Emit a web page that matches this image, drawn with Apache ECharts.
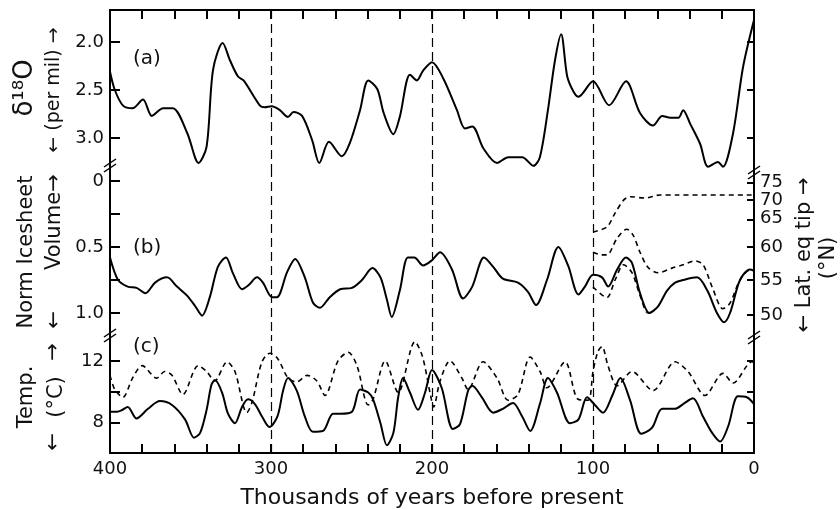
<!DOCTYPE html>
<html><head><meta charset="utf-8">
<script src="https://cdn.jsdelivr.net/npm/echarts@6/dist/echarts.min.js"></script>
<style>html,body{margin:0;padding:0;background:#fff}#c{width:840px;height:510px}</style>
</head><body><div id="c"></div>
<script>
const FONT = 'DejaVu Sans';
// x axis (thousands of years before present)
const xTickStep = 20;
const xLabelStep = 100;
const vertLines = [300,200,100];

// (a) delta 18O (per mil)
const ageA = [400,397,392,386,379.5,374,367,361,352,345,340,336,330,325.5,320.5,317,307,304,299.5,294.5,289.5,286,280.7,274.5,270,264,256,251,244.7,239.6,234,230,224,220,213.7,209.4,205.6,200,193,184.5,179.5,175,168,159.6,152.6,144,137,133,128,123.6,119.8,116,112,109,100,90,79.5,70.8,62.7,57,52,47,44,39.7,33.5,28.5,22.4,19.3,13,6.8,0];
const d18O = [2.31,2.5,2.66,2.69,2.60,2.77,2.69,2.69,2.95,3.26,3.09,2.29,2.01,2.19,2.36,2.40,2.66,2.68,2.67,2.71,2.78,2.73,2.77,3.02,3.26,3.04,3.19,3.05,2.71,2.40,2.49,2.74,2.96,2.78,2.34,2.40,2.30,2.21,2.38,2.71,2.90,2.88,3.11,3.26,3.20,3.20,3.29,3.20,2.71,2.19,1.92,2.36,2.52,2.57,2.41,2.66,2.41,2.74,2.87,2.77,2.79,2.79,2.71,2.85,3.06,3.30,3.25,3.30,2.95,2.26,1.77];
const d18OTicks = [2.0,2.5,3.0];

// (b) normalised ice-sheet volume
const ageB = [400,395,389,383.5,378,372,364.6,358.4,352,347,342.8,338,333,328,323.6,318,314,308.7,305,299.4,296.3,290,285,279,274,269.6,263.5,257,249.7,243.5,237,232,228,225,220,215,211,205.5,200,195,187.6,180.7,175,167.7,162,156,146.6,140.4,135.4,128.6,121.5,115.5,109,105,100,94.4,90.6,85,79.5,75.8,70.8,65,59.6,54,49,44,35.4,29,23,18.6,14.9,8.7,2.5,0];
const iceVol = [0.58,0.75,0.80,0.81,0.85,0.77,0.73,0.80,0.87,0.95,1.02,0.88,0.65,0.58,0.70,0.82,0.79,0.73,0.77,0.88,0.88,0.69,0.59,0.73,0.92,0.96,0.88,0.82,0.81,0.75,0.66,0.73,0.90,1.03,0.83,0.58,0.58,0.64,0.60,0.54,0.67,0.89,0.80,0.58,0.65,0.74,0.77,0.84,0.94,0.75,0.50,0.64,0.86,0.80,0.71,0.73,0.80,0.67,0.58,0.62,0.85,1.00,0.95,0.83,0.77,0.75,0.73,0.83,1.00,1.07,1.00,0.75,0.67,0.68];
const iceTicks = [0,0.25,0.5,0.75,1.0];
const iceLabels = [0,0.5,1.0];

// (b) latitude of equilibrium-line tip (deg N), right axis (non-linear)
const latTicks = [75,70,65,60,55,50];
const latTickVol = [0.015,0.145,0.29,0.5,0.75,1.015]; // where each latitude tick sits on the volume scale
// the three closely spaced top labels are set as one stacked label so none is dropped
const latLabelVol = [0.145,0.5,0.75,1.015];
const latLabelText = ['75\n70\n65','60','55','50'];
const ageLatTop = [100,91.4,86.3,81,77,67.7,58.4,48,0];
const latTop = [62.7,63.6,66.6,70,71,70.6,71.5,71.5,71.5];
const ageLatMid = [100,94.4,91.4,85,79,75,70.8,65.8,59.6,51,44,36.6,31.6,26,19.3,14.9,8.7,2.5,0];
const latMid = [59.2,58.8,58.8,61.6,63.2,62.1,59.2,56.9,56.1,56.8,57.3,57.9,57.3,54,50.9,51.7,55,56.5,56.5];
const ageLatBot = [100,91.4,86.3,81,75.8,70.8,65.8,62];
const latBot = [54,52.5,55,57.3,56.1,52.8,50.3,50.5];

// (c) temperature (deg C)
const ageC1 = [400,395.6,392.5,389,383.5,376.4,369,361.5,353.4,347.8,344,340,337,334.8,330.4,326.7,322.4,318,314.3,310,305.6,301,296,292.5,289.4,284,279,274,267.7,261.5,257,249.7,244.7,239.6,236.6,232,228,224,221,218,213.7,208.7,204.3,200,194,187,182.6,177.6,175,169,162,156,149.7,144,139,133,128,122.4,114.3,109,103.7,98.8,93.8,88,83,77,70,63.4,57,49,44,37.9,31.7,26,21,16,10,4.5,0];
const tempSolid = [8.69,8.69,8.8,9.0,8.25,8.88,9.38,9.13,8.19,7.0,7.31,8.81,10.44,10.75,9.94,8.56,7.94,9.0,9.5,9.19,8.38,7.69,8.38,10.06,10.88,10.06,8.38,7.38,7.44,8.56,8.56,8.69,10.13,9.94,9.5,7.94,6.5,7.31,9.63,10.88,9.94,8.81,9.94,11.4,10.25,7.56,7.88,10.06,10.38,9.63,8.63,8.88,9.25,8.38,7.44,9.19,10.88,9.94,7.94,8.19,9.63,9.13,8.63,9.75,10.88,9.44,7.25,7.63,8.88,8.88,9.19,9.56,8.38,7.31,6.75,7.75,9.69,9.63,9.19];
const ageC2 = [400,397,392,386,380,371,366,361.5,354.7,345.3,340,335,327.3,322.4,315,311.8,305.6,300.6,295.7,289.4,284,277.6,271.5,266.5,258.4,252,246.6,239.6,236.6,229,221,210.6,206,201,199,195,188.8,181.4,177.6,168.3,159.6,152.8,146.6,139,132.9,128.6,117.4,109.3,103,100,97,94.4,90.7,85,75.8,62.7,49,41,30.4,19.3,13,1.3,0];
const tempDashed = [11.06,10.13,9.63,10.88,11.69,10.88,11.31,11.06,9.81,11.69,11.31,10.69,11.94,11.31,8.63,9.3,11.94,12.5,12.13,10.88,10.63,11.06,10.69,9.75,12.0,12.56,11.69,9.13,9.5,12.0,9.94,13.25,12.31,9.81,9.0,10.69,12.0,10.88,10.13,11.94,10.88,9.44,9.81,12.25,11.31,10.25,11.94,9.5,9.44,11.3,12.6,12.94,11.69,10.38,11.31,10.06,11.94,11.31,9.75,11.19,10.56,11.94,11.9];
const tempTicks = [8,10,12];
const tempLabels = [8,12];

function latToVol(lat){
  for (let i=0;i<latTicks.length-1;i++){
    const a=latTicks[i], b=latTicks[i+1];
    if (lat<=a && lat>=b){ const f=(a-lat)/(a-b); return latTickVol[i]+f*(latTickVol[i+1]-latTickVol[i]); }
  }
  return lat>latTicks[0]?latTickVol[0]:latTickVol[latTickVol.length-1];
}
const pairs=(xs,ys)=>xs.map((x,i)=>[x,ys[i]]);
const latPairs=(xs,ys)=>xs.map((x,i)=>[x,latToVol(ys[i])]);

const INK='#000', TXT='#111';
const GL=110, GR=86;
const grids=[{left:GL,right:GR,top:10,height:158},{left:GL,right:GR,top:168,height:167},{left:GL,right:GR,top:335,height:123}];

function xAx(i, opts){
  return Object.assign({type:'value',gridIndex:i,min:0,max:400,interval:xTickStep,inverse:true,
    splitLine:{show:false},
    axisLine:{show:true,onZero:false,lineStyle:{color:INK,width:2}},
    axisTick:{show:true,inside:true,length:9,lineStyle:{color:INK,width:2}},
    axisLabel:{show:false}},opts);
}
function yAx(i,pos,min,max,inverse,ticks,labels,fmt,tickLen,lblExtra){
  return {type:'value',gridIndex:i,position:pos,min:min,max:max,inverse:inverse,
    splitLine:{show:false},
    axisLine:{show:true,onZero:false,lineStyle:{color:INK,width:2}},
    axisTick:{show:true,inside:true,length:tickLen||10,lineStyle:{color:INK,width:2},customValues:ticks},
    axisLabel:labels?Object.assign({show:true,customValues:labels,formatter:fmt,showMinLabel:true,showMaxLabel:true,hideOverlap:false,color:TXT,fontFamily:FONT,fontSize:18,margin:6},lblExtra||{}):{show:false}};
}
const vml={symbol:'none',silent:true,label:{show:false},lineStyle:{type:[9,5],color:INK,width:1.2},data:vertLines.map(v=>({xAxis:v}))};
const solid={color:INK,width:2};
const dashed={color:INK,width:1.6,type:[5,4]};
const latFmt=v=>{let bi=0;latLabelVol.forEach((p,i)=>{if(Math.abs(p-v)<Math.abs(latLabelVol[bi]-v))bi=i;});return latLabelText[bi];};

const option={
  animation:false,
  backgroundColor:'#fff',
  grid:grids,
  xAxis:[
    xAx(0,{position:'top'}),
    xAx(1,{show:false}),
    xAx(2,{position:'bottom',
      axisLabel:{show:true,formatter:v=>(v%xLabelStep===0?String(v):''),showMinLabel:true,showMaxLabel:true,color:TXT,fontFamily:FONT,fontSize:18,margin:7,hideOverlap:false},
      name:'Thousands of years before present',nameLocation:'middle',nameGap:34,
      nameTextStyle:{color:TXT,fontFamily:FONT,fontSize:22}})
  ],
  yAxis:[
    yAx(0,'left',1.6667,3.3125,true,d18OTicks,d18OTicks,v=>v.toFixed(1)),
    yAx(0,'right',1.6667,3.3125,true,d18OTicks,null,null,7),
    yAx(1,'left',-0.0985,1.1667,true,iceTicks,iceLabels,v=>v===0?'0':v.toFixed(1)),
    yAx(1,'right',-0.0985,1.1667,true,latTickVol,latLabelVol,latFmt,7,{fontSize:18,lineHeight:18}),
    yAx(2,'left',6,13.6875,false,tempTicks,tempLabels,v=>String(v)),
    yAx(2,'right',6,13.6875,false,tempTicks,null,null,7)
  ],
  series:[
    {type:'line',xAxisIndex:0,yAxisIndex:0,data:pairs(ageA,d18O),showSymbol:false,smooth:0.3,lineStyle:solid,markLine:vml},
    {type:'line',xAxisIndex:1,yAxisIndex:2,data:pairs(ageB,iceVol),showSymbol:false,smooth:0.3,lineStyle:solid,markLine:vml},
    {type:'line',xAxisIndex:1,yAxisIndex:2,data:latPairs(ageLatTop,latTop),showSymbol:false,smooth:0.3,lineStyle:dashed},
    {type:'line',xAxisIndex:1,yAxisIndex:2,data:latPairs(ageLatMid,latMid),showSymbol:false,smooth:0.3,lineStyle:dashed},
    {type:'line',xAxisIndex:1,yAxisIndex:2,data:latPairs(ageLatBot,latBot),showSymbol:false,smooth:0.3,lineStyle:dashed},
    {type:'line',xAxisIndex:2,yAxisIndex:4,data:pairs(ageC1,tempSolid),showSymbol:false,smooth:0.3,lineStyle:solid,markLine:vml},
    {type:'line',xAxisIndex:2,yAxisIndex:4,data:pairs(ageC2,tempDashed),showSymbol:false,smooth:0.3,lineStyle:dashed}
  ],
  graphic:[]
};
function txt(t,x,y,size,rot,align){
  return {type:'text',x:x,y:y,rotation:rot?Math.PI/2:0,silent:true,
    style:{text:t,fill:TXT,font:size+'px "'+FONT+'"',textAlign:align||'center',textVerticalAlign:'middle',align:align||'center',verticalAlign:'middle'}};
}
function brk(x,y){
  return [
    {type:'line',silent:true,shape:{x1:x-6,y1:y+2,x2:x+6,y2:y-6},style:{stroke:INK,lineWidth:1.5}},
    {type:'line',silent:true,shape:{x1:x-6,y1:y+7,x2:x+6,y2:y-1},style:{stroke:INK,lineWidth:1.5}}
  ];
}
option.graphic = [
  txt('δ¹⁸O',25,88,26,true),
  txt('← (per mil) →',54,90,19,true),
  txt('Norm Icesheet',27,252,21,true),
  txt('Volume',55,231,21,true),
  txt('→',55,183,21,true),
  txt('←',55,320,21,true),
  txt('Temp.',27,397,21,true),
  txt('(°C)',57,397,21,true),
  txt('→',54,352,21,true),
  txt('←',54,442,21,true),
  txt('← Lat. eq tip →',805,255,21,true),
  txt('(°N)',829,258,21,true),
  txt('(a)',133,59,20,false,'left'),
  txt('(b)',133,248,20,false,'left'),
  txt('(c)',133,347,20,false,'left')
].concat(brk(110,165),brk(110,335),brk(754,172),brk(754,337));

const chart=echarts.init(document.getElementById('c'),null,{renderer:'canvas'});
chart.setOption(option);
</script></body></html>
